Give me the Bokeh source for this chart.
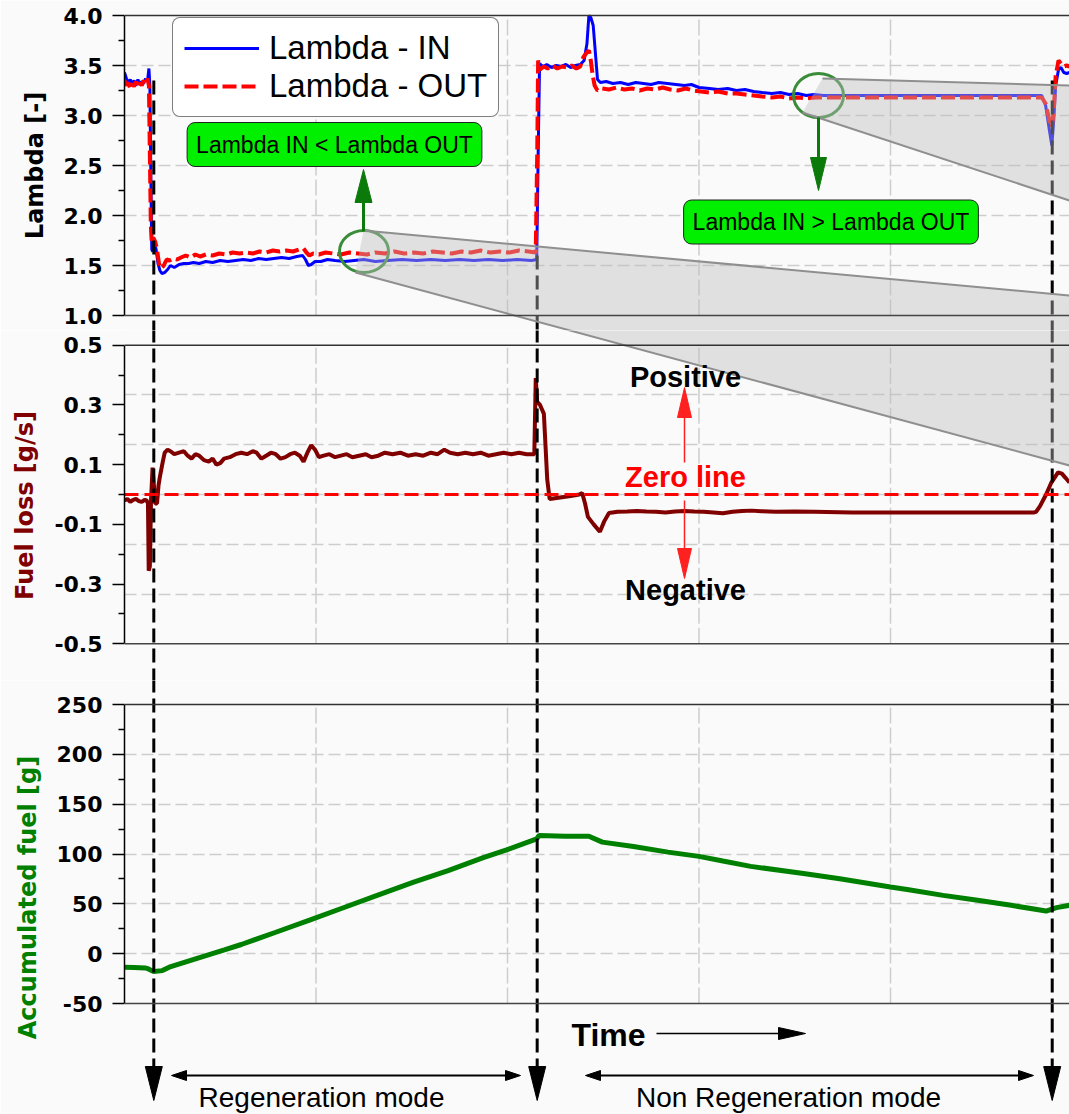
from bokeh.plotting import figure
from bokeh.layouts import column
from bokeh.models import Range1d, FixedTicker, PrintfTickFormatter, Span, Label, Legend, LegendItem
from bokeh.embed import file_html
from bokeh.resources import INLINE

# ---------------- data (time in s) ----------------
lambda_in_t = [0, 2, 4, 6, 8, 10, 12, 14, 16, 18, 20, 22, 24, 25.5, 26.5, 27.5, 28.5, 29.5, 31, 33,
               35, 37, 39, 42, 45, 48, 52, 57, 62, 67, 72, 78, 85, 92, 100, 108, 116, 124, 132, 140,
               148, 156, 164, 172, 180, 186, 189, 192, 195, 199, 205, 212, 220, 230, 240, 250, 262, 275, 290, 305,
               320, 335, 350, 365, 380, 395, 410, 425, 430.5, 432, 433.5, 437, 441, 446, 451, 456, 461, 466, 471, 476,
               480, 483, 485, 487, 489.5, 492, 494, 497, 503, 510, 518, 526, 534, 542, 550, 558, 567, 576, 585, 592,
               600, 611, 620, 630, 639, 648, 657, 666, 676, 685, 694, 703, 712, 720, 730, 750, 800, 850, 900, 940,
               958, 962, 966, 968.5, 970.5, 972.5, 975.5, 978, 981, 984, 986.9]
lambda_in = [3.43, 3.37, 3.32, 3.36, 3.31, 3.35, 3.30, 3.36, 3.31, 3.34, 3.32, 3.37, 3.34, 3.47, 3.30, 2.40, 1.66, 1.64, 1.74, 1.66,
             1.52, 1.45, 1.42, 1.43, 1.46, 1.50, 1.48, 1.51, 1.52, 1.52, 1.53, 1.52, 1.54, 1.53, 1.55, 1.54, 1.55, 1.56, 1.55, 1.57,
             1.56, 1.57, 1.58, 1.57, 1.59, 1.60, 1.56, 1.50, 1.51, 1.54, 1.54, 1.56, 1.55, 1.54, 1.55, 1.56, 1.54, 1.55, 1.56, 1.55,
             1.56, 1.55, 1.56, 1.55, 1.56, 1.55, 1.56, 1.55, 1.56, 2.60, 3.52, 3.49, 3.51, 3.48, 3.50, 3.49, 3.51, 3.48, 3.50, 3.51,
             3.55, 3.72, 4.00, 3.98, 3.90, 3.60, 3.36, 3.33, 3.34, 3.32, 3.33, 3.31, 3.33, 3.32, 3.31, 3.33, 3.32, 3.31, 3.30, 3.31,
             3.28, 3.27, 3.26, 3.27, 3.25, 3.26, 3.24, 3.23, 3.22, 3.23, 3.21, 3.22, 3.20, 3.21, 3.20, 3.20, 3.20, 3.20, 3.20, 3.20,
             3.20, 3.10, 2.85, 2.70, 2.95, 3.30, 3.46, 3.48, 3.43, 3.42, 3.43]

lambda_out_t = [0, 2, 4, 6, 8, 10, 12, 14, 16, 18, 20, 22, 24, 25.5, 26.5, 27.5, 28.5, 30, 32, 34,
                36, 38, 41, 44, 47, 51, 55, 59, 64, 69, 74, 79, 85, 92, 99, 106, 113, 120, 127, 134,
                141, 148, 155, 162, 169, 176, 182, 187, 190, 193, 197, 203, 210, 218, 226, 235, 244, 253, 262, 272,
                282, 292, 302, 312, 322, 332, 342, 352, 362, 372, 382, 392, 402, 412, 422, 429.5, 431, 432, 434, 438,
                442, 447, 452, 457, 462, 467, 472, 476, 479, 482, 485, 487, 489, 491, 494, 499, 506, 514, 522, 530,
                538, 546, 554, 562, 570, 578, 586, 594, 602, 611, 620, 630, 639, 648, 657, 666, 676, 685, 694, 703,
                712, 722, 740, 800, 900, 958, 962, 966, 968.5, 970.5, 972.5, 975.5, 978, 981, 984, 986.9]
lambda_out = [3.35, 3.30, 3.33, 3.27, 3.32, 3.29, 3.34, 3.28, 3.33, 3.30, 3.35, 3.31, 3.37, 3.30, 2.60, 1.90, 1.72, 1.78, 1.74, 1.66,
              1.52, 1.47, 1.50, 1.56, 1.55, 1.57, 1.56, 1.58, 1.60, 1.58, 1.61, 1.59, 1.61, 1.60, 1.62, 1.61, 1.63, 1.62, 1.63, 1.62,
              1.64, 1.63, 1.65, 1.64, 1.65, 1.64, 1.66, 1.67, 1.63, 1.60, 1.62, 1.61, 1.63, 1.62, 1.61, 1.63, 1.62, 1.61, 1.63, 1.62,
              1.64, 1.62, 1.63, 1.62, 1.64, 1.63, 1.62, 1.64, 1.63, 1.65, 1.63, 1.64, 1.63, 1.65, 1.64, 1.63, 2.60, 3.55, 3.46, 3.49,
              3.47, 3.50, 3.47, 3.49, 3.48, 3.50, 3.47, 3.49, 3.58, 3.62, 3.65, 3.55, 3.40, 3.30, 3.25, 3.27, 3.26, 3.28, 3.26, 3.27,
              3.25, 3.27, 3.26, 3.28, 3.26, 3.25, 3.27, 3.25, 3.24, 3.23, 3.24, 3.22, 3.22, 3.21, 3.20, 3.19, 3.18, 3.19, 3.17, 3.18,
              3.17, 3.18, 3.18, 3.18, 3.18, 3.18, 3.12, 2.95, 2.88, 3.05, 3.40, 3.55, 3.52, 3.49, 3.50, 3.49]

fuel_loss_t = [0, 3, 6, 9, 12, 15, 18, 21, 23, 24.5, 25.3, 26.5, 27.7, 29.3, 30.5, 32, 34, 35.5, 37, 40,
               42, 45, 48, 52, 57, 62, 66, 70, 74, 78, 83, 88, 92, 96, 100, 104, 110, 116, 122, 128,
               134, 138, 143, 148, 153, 158, 163, 168, 173, 178, 183, 187, 191, 195, 199, 203, 208, 214, 220, 226,
               232, 238, 245, 252, 258, 265, 272, 280, 288, 296, 304, 312, 320, 327, 334, 340, 348, 356, 364, 372,
               380, 388, 396, 404, 412, 420, 428, 429.5, 431, 434, 438, 441.5, 444, 455, 466, 475, 478, 481, 484, 490,
               496.5, 501, 506, 515, 525, 535, 545, 555, 565, 575, 585, 595, 605, 615, 625, 635, 645, 655, 665, 680,
               700, 720, 760, 800, 850, 900, 950, 952, 956, 962.5, 968, 975, 979, 983, 986.9]
fuel_loss = [-0.02, -0.015, -0.025, -0.018, -0.015, -0.022, -0.025, -0.018, -0.02, -0.03, -0.255, -0.24, -0.02, 0.09, 0.04, -0.03, -0.03, 0.03, 0.06, 0.11,
             0.14, 0.15, 0.145, 0.135, 0.14, 0.145, 0.13, 0.12, 0.135, 0.13, 0.115, 0.11, 0.12, 0.10, 0.105, 0.12, 0.125, 0.135, 0.14, 0.135,
             0.145, 0.14, 0.12, 0.13, 0.14, 0.135, 0.12, 0.125, 0.135, 0.14, 0.13, 0.11, 0.14, 0.165, 0.15, 0.125, 0.13, 0.135, 0.125, 0.13,
             0.135, 0.125, 0.13, 0.135, 0.125, 0.13, 0.14, 0.135, 0.14, 0.13, 0.135, 0.13, 0.14, 0.135, 0.15, 0.14, 0.135, 0.14, 0.135, 0.14,
             0.13, 0.135, 0.14, 0.135, 0.14, 0.135, 0.135, 0.39, 0.31, 0.30, 0.27, 0.05, -0.015, -0.01, -0.005, 0.0, 0.005, -0.03, -0.075, -0.10,
             -0.125, -0.09, -0.062, -0.058, -0.057, -0.055, -0.057, -0.058, -0.06, -0.057, -0.055, -0.057, -0.058, -0.06, -0.063, -0.058, -0.055, -0.054, -0.056, -0.058,
             -0.057, -0.058, -0.06, -0.06, -0.06, -0.06, -0.06, -0.058, -0.04, 0.0, 0.04, 0.074, 0.07, 0.055, 0.04]

acc_fuel_t = [0, 10, 21.5, 25, 30.5, 39.5, 46.7, 68.3, 104.3, 122, 158, 194, 230, 266, 302, 338, 374, 399, 430.5,
              433, 460, 485, 499, 531.6, 567.6, 600, 625, 654, 711, 747, 800, 819, 855, 891, 926, 962.5, 973.4, 986.9]
acc_fuel = [-13.6, -13.8, -14.3, -15.3, -18, -17, -13.6, -6.9, 3.8, 9.2, 21.5, 33.9, 46.6, 59.3, 71.7, 83.4, 96.1, 104.1, 115.2,
            118.6, 117.9, 117.9, 111.9, 107.6, 101.9, 97.6, 92.9, 87.6, 80.2, 75.2, 66.9, 64.2, 58.5, 53.5, 48.5, 42.8, 46.2, 48.5]

mode_switch_t = [30.6, 431.0, 968.9]          # dashed black markers
time_grid = [200, 400, 600, 800]

lambda_ticks = [1.0, 1.5, 2.0, 2.5, 3.0, 3.5, 4.0]
lambda_minor = [1.25, 1.75, 2.25, 2.75, 3.25, 3.75]
lambda_grid = [1.5, 2.0, 2.5, 3.0, 3.5]
loss_ticks = [-0.5, -0.3, -0.1, 0.1, 0.3, 0.5]
loss_minor = [-0.4, -0.2, 0.0, 0.2, 0.4]
loss_grid = [-1 / 3, -1 / 6, 0.0, 1 / 6, 1 / 3]
acc_ticks = [-50, 0, 50, 100, 150, 200, 250]
acc_minor = [-25, 25, 75, 125, 175, 225]
acc_grid = [0, 50, 100, 150, 200]

for a, b in ((lambda_in_t, lambda_in), (lambda_out_t, lambda_out), (fuel_loss_t, fuel_loss), (acc_fuel_t, acc_fuel)):
    assert len(a) == len(b), (len(a), len(b))

# ---------------- layout ----------------
BG = "#fafafa"
W = 1069
X0 = 124
T_PER_PX = 200 / 191.5
X_END = (W - X0) * T_PER_PX
PANELS = [
    dict(top=0, bot=330, vt=4.0, pt=15, vb=1.0, pb=315),
    dict(top=330, bot=680, vt=0.5, pt=344.7, vb=-0.5, pb=643.3),
    dict(top=680, bot=1114, vt=250, pt=704, vb=-50, pb=1003),
]
TICK_FONT = "DejaVu Sans"
TEXT_FONT = "Liberation Sans"
GRID_COLOR = "#cdcdcd"


def tx(px):
    return (px - X0) * T_PER_PX


def yconv(i):
    P = PANELS[i]
    k = (P["vt"] - P["vb"]) / (P["pb"] - P["pt"])
    return lambda py: P["vt"] - (py - P["pt"]) * k


def make_fig(i, ticks, minor, grid_ticks, fmt, label, label_color):
    P = PANELS[i]
    yc = yconv(i)
    p = figure(width=W, height=P["bot"] - P["top"], x_range=Range1d(0, X_END),
               y_range=Range1d(yc(P["bot"]), yc(P["top"])), output_backend="svg",
               toolbar_location=None, x_axis_location=None, y_axis_location="left",
               min_border_left=X0, min_border_right=0, min_border_top=0, min_border_bottom=0,
               background_fill_color=BG, border_fill_color=BG, outline_line_color=None)
    ax = p.yaxis[0]
    ax.bounds = (P["vb"], P["vt"])
    ax.ticker = FixedTicker(ticks=ticks, minor_ticks=minor)
    ax.formatter = PrintfTickFormatter(format=fmt)
    ax.axis_label = label
    ax.axis_label_text_color = label_color
    ax.axis_label_text_font = TICK_FONT
    ax.axis_label_text_font_size = "24px"
    ax.axis_label_text_font_style = "bold"
    ax.axis_label_standoff = 12
    ax.major_label_text_font = TICK_FONT
    ax.major_label_text_font_size = "22px"
    ax.major_label_text_font_style = "bold"
    ax.major_label_text_color = "black"
    ax.major_label_standoff = 10
    ax.axis_line_color = "black"
    ax.axis_line_width = 1.5
    ax.major_tick_out = 12
    ax.major_tick_in = 0
    ax.minor_tick_out = 6
    ax.minor_tick_in = 0
    ax.major_tick_line_color = "black"
    ax.major_tick_line_width = 1.5
    ax.minor_tick_line_color = "black"
    ax.minor_tick_line_width = 1.5
    p.xgrid.visible = False
    p.ygrid.ticker = FixedTicker(ticks=grid_ticks)
    p.ygrid.grid_line_color = GRID_COLOR
    p.ygrid.grid_line_width = 1.5
    p.ygrid.grid_line_dash = "12 5"
    n = len(time_grid)
    p.segment(x0=time_grid, y0=[P["vb"]] * n, x1=time_grid, y1=[P["vt"]] * n,
              line_color=GRID_COLOR, line_width=1.5, line_dash="16 4")
    for v, c in ((P["vt"], "#333333"), (P["vb"], "#444444")):
        p.add_layout(Span(location=v, dimension="width", line_color=c, line_width=1.5))
    return p, yc


def head(tip, back, width):
    (x1, y1), (x0, y0) = tip, back
    dx, dy = x1 - x0, y1 - y0
    L = (dx * dx + dy * dy) ** 0.5
    nx, ny = -dy / L, dx / L
    return [tip, (x0 + nx * width / 2, y0 + ny * width / 2), (x0 - nx * width / 2, y0 - ny * width / 2)]


def to_data(pts, yc):
    return [tx(x) for x, _ in pts], [yc(y) for _, y in pts]


def label_supports(name):
    return name in Label.properties()


def add_text(p, x, y, text, size, color="black", bold=False, align="center", baseline="middle", **kw):
    lab = Label(x=x, y=y, text=text, text_font=TEXT_FONT, text_font_size=f"{size}px", text_color=color,
                text_font_style="bold" if bold else "normal", text_align=align, text_baseline=baseline, **kw)
    p.add_layout(lab)
    return lab


def add_arrow(p, yc, start, tip, back, width, color, lw):
    p.segment(x0=[tx(start[0])], y0=[yc(start[1])], x1=[tx(back[0])], y1=[yc(back[1])],
              line_color=color, line_width=lw)
    hx, hy = to_data(head(tip, back, width), yc)
    p.patch(hx, hy, fill_color=color, line_color=color, line_width=1)


# fans from the marked circles toward the (cut-off) enlarged views
FAN1 = [(363, 230), (1069, 295), (1069, 465), (355, 272)]
FAN2 = [(822, 78), (1069, 85), (1069, 200), (802, 112)]


def draw_fan(p, yc, pts):
    fx, fy = to_data(pts, yc)
    p.patch(fx, fy, fill_color="#bdbdbd", fill_alpha=0.42, line_color=None)
    p.segment(x0=[fx[0], fx[3]], y0=[fy[0], fy[3]], x1=[fx[1], fx[2]], y1=[fy[1], fy[2]],
              line_color="#8f8f8f", line_width=2)


MODE_X_PX = [153.3, 536.7, 1051.7]
DASH_KW = dict(line_color="black", line_width=3, line_dash="14 6")

# ---------------- panel 1: lambda ----------------
p1, yc1 = make_fig(0, lambda_ticks, lambda_minor, lambda_grid, "%.1f", "Lambda [-]", "black")
r_in = p1.line(lambda_in_t, lambda_in, line_color="#0000ff", line_width=3)
r_out = p1.line(lambda_out_t, lambda_out, line_color="#ff0000", line_width=4, line_dash="14 5")
p1.segment(x0=mode_switch_t, y0=[yc1(80), yc1(255), yc1(80)], x1=mode_switch_t, y1=[yc1(332)] * 3, **DASH_KW)
p1.ellipse(x=[tx(363.5), tx(818)], y=[yc1(251), yc1(95)], width=[49, 50], height=[42, 44],
           width_units="screen", height_units="screen", fill_color=None, line_color="#3a8c3a", line_width=3)
draw_fan(p1, yc1, FAN1)
draw_fan(p1, yc1, FAN2)
add_arrow(p1, yc1, (363, 231), (363, 169), (363, 202), 17, "#0b7a0b", 3)
add_arrow(p1, yc1, (818, 117), (818, 190), (818, 157), 16, "#0b7a0b", 3)

box_kw = dict(background_fill_color="#00f000", border_line_color="#222222", border_line_width=1)
if label_supports("padding"):
    box_kw["padding"] = 9
if label_supports("border_radius"):
    box_kw["border_radius"] = 8
add_text(p1, tx(334), yc1(144), "Lambda IN < Lambda OUT", 23, **box_kw)
add_text(p1, tx(830.5), yc1(221.5), "Lambda IN > Lambda OUT", 23, **box_kw)

legend = Legend(items=[LegendItem(label="Lambda - IN", renderers=[r_in]),
                       LegendItem(label="Lambda - OUT", renderers=[r_out])],
                location=(48, 213), label_text_font=TEXT_FONT, label_text_font_size="33px",
                label_text_color="black",
                glyph_width=75, glyph_height=30, label_standoff=10, padding=11, spacing=0, margin=0,
                border_line_color="black", border_line_width=1, background_fill_color="white",
                background_fill_alpha=1.0)
if "border_radius" in Legend.properties():
    legend.border_radius = 8
p1.add_layout(legend)

# ---------------- panel 2: fuel loss ----------------
p2, yc2 = make_fig(1, loss_ticks, loss_minor, loss_grid, "%.1f", "Fuel loss [g/s]", "#800000")
p2.add_layout(Span(location=0, dimension="width", line_color="#ff0000", line_width=3, line_dash="14 6",
                   level="glyph"))
p2.line(fuel_loss_t, fuel_loss, line_color="#800000", line_width=4)
p2.segment(x0=mode_switch_t, y0=[yc2(328)] * 3, x1=mode_switch_t, y1=[yc2(682)] * 3, **DASH_KW)
draw_fan(p2, yc2, FAN1)
add_arrow(p2, yc2, (684, 462), (684, 387), (684, 417), 14, "#ff2020", 1.5)
add_arrow(p2, yc2, (684, 500), (684, 578), (684, 548), 14, "#ff2020", 1.5)
add_text(p2, tx(685), yc2(376), "Positive", 29, bold=True)
add_text(p2, tx(685), yc2(476), "Zero line", 29, color="#ff0000", bold=True)
add_text(p2, tx(685), yc2(589), "Negative", 29, bold=True)

# ---------------- panel 3: accumulated fuel ----------------
p3, yc3 = make_fig(2, acc_ticks, acc_minor, acc_grid, "%d", "Accumulated fuel [g]", "#008000")
p3.line(acc_fuel_t, acc_fuel, line_color="#008000", line_width=5)
p3.segment(x0=mode_switch_t, y0=[yc3(678)] * 3, x1=mode_switch_t, y1=[yc3(1068)] * 3, **DASH_KW)
for mx in MODE_X_PX:
    hx, hy = to_data(head((mx, 1100), (mx, 1066), 17), yc3)
    p3.patch(hx, hy, fill_color="black", line_color="black")
add_text(p3, tx(571), yc3(1034), "Time", 32, bold=True, align="left")
add_arrow(p3, yc3, (656, 1033), (805, 1033), (778, 1033), 12, "black", 1.5)
for a, b in ((171, 520), (585, 1033)):
    p3.segment(x0=[tx(a + 10)], y0=[yc3(1075)], x1=[tx(b - 10)], y1=[yc3(1075)], line_color="black", line_width=2)
    for tip, back in (((a, 1075), (a + 15, 1075)), ((b, 1075), (b - 15, 1075))):
        hx, hy = to_data(head(tip, back, 10), yc3)
        p3.patch(hx, hy, fill_color="black", line_color="black")
add_text(p3, tx(321), yc3(1097), "Regeneration mode", 28)
add_text(p3, tx(788), yc3(1097), "Non Regeneration mode", 28)

layout = column(p1, p2, p3, spacing=0)
open("out.html", "w").write(file_html(layout, INLINE))
